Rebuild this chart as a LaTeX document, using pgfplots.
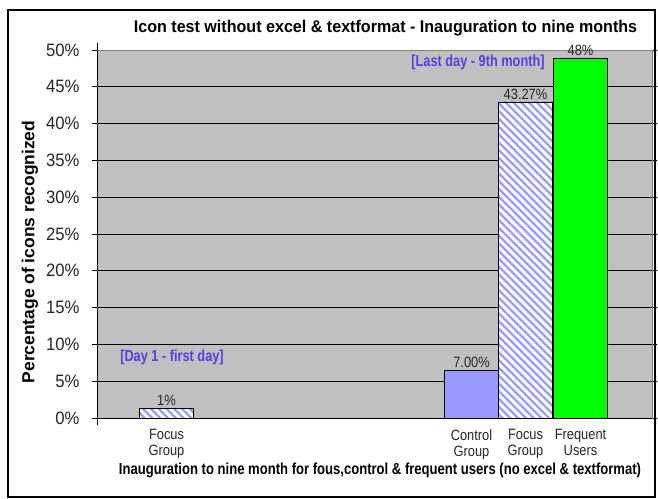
\documentclass[border=0pt]{standalone}
\usepackage{pgfplots}
\pgfplotsset{compat=1.18}
\usepackage{fontspec}
\setmainfont{Liberation Sans}
\newfontfamily\narrow[FakeStretch=0.86]{Liberation Sans}
\newfontfamily\narrowy[FakeStretch=0.93]{Liberation Sans}
\newfontfamily\narrowb[FakeStretch=0.80]{Liberation Sans Bold}
\newfontfamily\narrowbx[FakeStretch=0.82]{Liberation Sans Bold}
\newfontfamily\narrowt[FakeStretch=0.95]{Liberation Sans Bold}
\usetikzlibrary{patterns.meta}
\definecolor{plotgray}{RGB}{192,192,192}
\definecolor{periw}{RGB}{153,153,255}
\definecolor{lblue}{RGB}{90,60,230}
\definecolor{fgreen}{RGB}{0,255,0}
\begin{document}
\begin{tikzpicture}[x=1bp,y=1bp]
\path[use as bounding box] (0,0) rectangle (658,499);
\draw[line width=2bp] (8,2) rectangle (655,489);
\begin{axis}[
  at={(97bp,81bp)}, anchor=south west,
  scale only axis, width=555bp, height=368bp,
  xmin=0, xmax=555, ymin=0, ymax=50,
  axis background/.style={fill=plotgray},
  axis line style={draw=gray, line width=0.8bp},
  ytick={0,5,...,50},
  yticklabels={0\%,5\%,10\%,15\%,20\%,25\%,30\%,35\%,40\%,45\%,50\%},
  yticklabel style={font=\narrowy\fontsize{18}{18}\selectfont, text=black!85, xshift=-9bp},
  ytick style={draw=black, line width=0.8bp},
  tick align=outside, major tick length=5bp,
  ymajorgrids, major grid style={black, line width=0.8bp},
  xtick={69.5,374.5,428.5,483.5},
  xticklabels={Focus\\Group, Control\\Group, Focus\\Group, Frequent\\Users},
  xticklabel style={align=center, font=\narrow\fontsize{15}{16}\selectfont, text=black!85, yshift=-3bp},
  major x tick style={draw=none},
  extra x ticks={0}, extra x tick labels={},
  extra x tick style={grid=none, major x tick style={draw=black, line width=0.8bp}, major tick length=7bp},
  ybar, bar width=54, bar shift=0pt,
  nodes near coords style={font=\narrow\fontsize{15}{15}\selectfont, text=black!85, inner sep=2bp},
  clip=false,
]
% white background of patterned bars
\addplot[ybar, bar shift=0pt, fill=white, draw=none] coordinates {(69.5,1.35) (428.5,42.95)};
\addplot[ybar, bar shift=0pt, draw=black, line width=0.6bp,
  pattern={Lines[angle=-45,distance=5.5bp,line width=2.3bp]}, pattern color=periw,
  nodes near coords={1\%}]
  coordinates {(69.5,1.35)};
\addplot[ybar, bar shift=0pt, draw=black, line width=0.6bp,
  pattern={Lines[angle=-45,distance=5.5bp,line width=2.3bp]}, pattern color=periw,
  nodes near coords={43.27\%}]
  coordinates {(428.5,42.95)};
\addplot[ybar, bar shift=0pt, draw=black, line width=0.6bp, fill=periw,
  nodes near coords={7.00\%}] coordinates {(374.5,6.5)};
\addplot[ybar, bar shift=0pt, draw=black, line width=0.6bp, fill=fgreen,
  nodes near coords={48\%}] coordinates {(483.5,48.9)};
\draw[black, line width=0.8bp] (axis cs:0,0) -- (axis cs:0,50);
\draw[black, line width=0.8bp] (axis cs:0,0) -- (axis cs:555,0);
\end{axis}
\node[font=\narrowt\fontsize{17}{17}\selectfont] at (385.5,471) {Icon test without excel \& textformat - Inauguration to nine months};
\node[font=\bfseries\fontsize{17.5}{17.5}\selectfont, rotate=90] at (30,247) {Percentage of icons recognized};
\node[font=\narrowbx\fontsize{16}{16}\selectfont] at (380,29) {Inauguration to nine month for fous,control \& frequent users (no excel \& textformat)};
\node[font=\narrowb\fontsize{16}{16}\selectfont, text=lblue] at (172,142) {[Day 1 - first day]};
\node[font=\narrowb\fontsize{16}{16}\selectfont, text=lblue] at (478,437) {[Last day - 9th month]};
\end{tikzpicture}
\end{document}
